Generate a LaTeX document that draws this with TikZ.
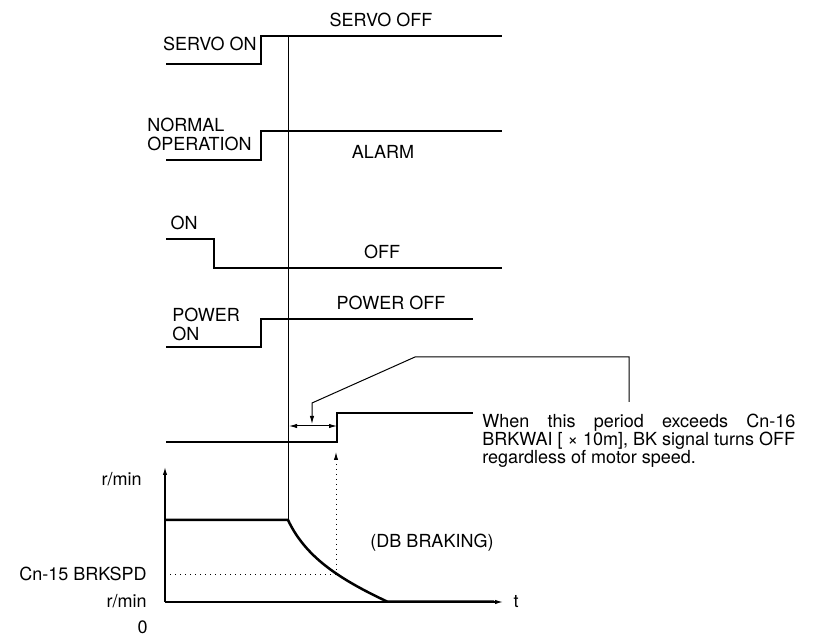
\documentclass[tikz,border=0pt]{standalone}
\usepackage{fontspec}
\setmainfont{TeX Gyre Heros}
\usepackage{tikz}
\usetikzlibrary{arrows.meta}

\begin{document}
\begin{tikzpicture}[x=0.5pt,y=-0.5pt,>={Latex[length=4pt,width=2.2pt]},every node/.style={font=\fontsize{9}{9.5}\selectfont,inner sep=0pt},sig/.style={line width=1.25pt},lead/.style={line width=0.5pt}]
\useasboundingbox (0,0) rectangle (815,636);
\draw[sig] (166,64) -- (261,64) -- (261,36) -- (502,36);
\node[anchor=east] (servoon) at (257,44) {SERVO ON}; \node (servooff) at (381,20) {SERVO OFF};
\draw[sig] (166,160) -- (261,160) -- (261,131) -- (502,131);
\node[anchor=base west,align=left] (normal) at (147,151) {NORMAL\\OPERATION}; \node (alarm) at (383,152) {ALARM};
\draw[sig] (166,239) -- (214,239) -- (214,268) -- (502,268);
\node (on) at (184,223) {ON}; \node (off) at (382,252) {OFF};
\draw[sig] (166,347) -- (261,347) -- (261,319) -- (473,319);
\node[anchor=base west,align=left] (poweron) at (172,341) {POWER\\ON}; \node (poweroff) at (391,303) {POWER OFF};
\draw[sig] (166,442) -- (337,442) -- (337,413) -- (473,413);
\draw[line width=0.75pt] (288.5,36) -- (288.5,520);
\coordinate (pl) at (289,426); \coordinate (pr) at (337,426); \coordinate (ptip) at (312,424);
\draw[<->,lead] (pl) -- (pr);
\coordinate (lend) at (629,402);
\draw[->,lead] (lend) -- (629,357) -- (415,357) -- (312,403) -- (ptip);
\node[anchor=base west,align=left,font=\fontsize{9}{9}\selectfont] (note) at (482,464) {\makebox[156.5pt][s]{When this period exceeds Cn-16}\\BRKWAI [ × 10m], BK signal turns OFF\\regardless of motor speed.};
\coordinate (o) at (165,602); \coordinate (yend) at (165,467); \coordinate (xend) at (503,602);
\draw[->,line width=0.6pt] (o) -- (yend); \draw[->,line width=0.6pt] (o) -- (xend);
\draw[sig] (165,520) -- (288,520) .. controls (305,556) and (337,578) .. (387,601.5) -- (494,601.5);
\coordinate (brk) at (336,575); \coordinate (bkon) at (336,452);
\draw[dotted,lead] (165,575) -- (brk); \draw[dotted,lead,->] (brk) -- (bkon);
\node[anchor=base east] (rmin) at (142,486) {r/min};
\node[anchor=base east] (brkspd) at (147,581) {Cn-15 BRKSPD};
\node[anchor=base east] (rminz) at (147,607) {r/min};
\node[anchor=base east] (zero) at (148,633) {0};
\node[anchor=base] (dbb) at (432,547) {(DB BRAKING)};
\node[anchor=base] (t) at (516,607) {t};
\end{tikzpicture}
\end{document}
